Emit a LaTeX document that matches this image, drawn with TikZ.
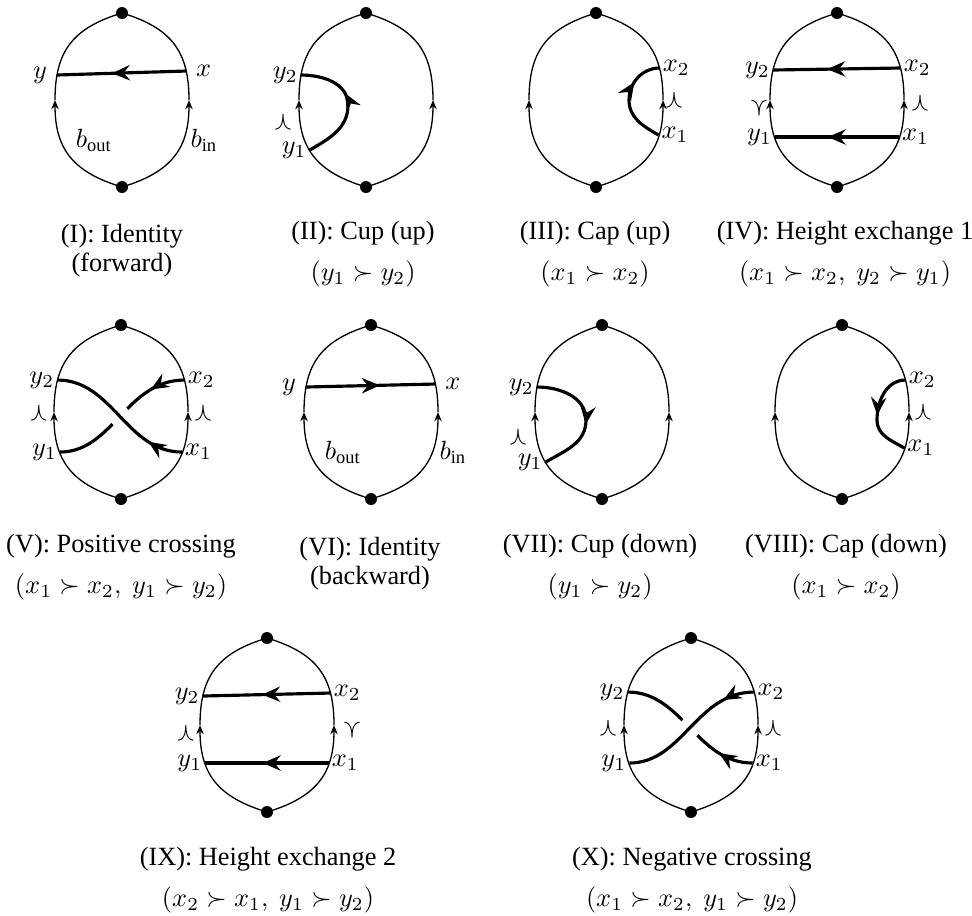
\documentclass[tikz,border=0pt]{standalone}
\usepackage{amsmath,amssymb}
\usepackage{fontspec}
\setmainfont{Liberation Serif}
\usepackage{tikz}
\usetikzlibrary{arrows.meta,decorations.markings}

% boundary of a tile: two arcs up, with marked points at top and bottom
\newcommand{\rim}{%
 \draw[bd,-{Stealth[length=3.5pt,width=2.8pt]}] (0,-87) .. controls (-50,-72) and (-67,-48) .. (-67,0);
 \draw[bd] (-67,0) .. controls (-67,48) and (-50,72) .. (0,87);
 \draw[bd,-{Stealth[length=3.5pt,width=2.8pt]}] (0,-87) .. controls (50,-72) and (67,-48) .. (67,0);
 \draw[bd] (67,0) .. controls (67,48) and (50,72) .. (0,87);
 \fill (0,87) circle (6) (0,-87) circle (6);}

\begin{document}
\begin{tikzpicture}[x=0.38pt,y=0.38pt,
 bd/.style={line width=0.5pt},
 st/.style={line width=1.2pt},
 arw/.style={postaction={decorate,decoration={markings,
   mark=at position #1 with {\arrow{Stealth[length=6.8pt,width=5.8pt,inset=2.3pt]}}}}},
 over/.style={preaction={draw,white,line width=8pt}},
 lab/.style={inner sep=1pt},
 lab1/.style={inner sep=3.5pt},
 capt/.style={align=center,font=\fontsize{10}{10}\selectfont}]
 \useasboundingbox (0,0) rectangle (972,-915);
 % panel I: identity (forward)
 \begin{scope}[shift={(122,-100)}]
  \coordinate (x) at (64.4,29); \coordinate (y) at (-65.2,25);
  \draw[st,arw=0.575] (x) -- (y);
  \rim
  \node[lab1,anchor=west] (xl) at (x) {$x$};
  \node[lab1,anchor=east] (yl) at (y) {$y$};
  \node (bo) at (-28,-40) {$b_{\mathrm{out}}$};
  \node (bi) at (82,-40) {$b_{\mathrm{in}}$};
 \end{scope}
 \node[capt] (c1) at (122,-251) {(I): Identity\\[1pt](forward)};
 % panel II: cup (up)
 \begin{scope}[shift={(366,-100)}]
  \coordinate (y1) at (-56.3,-50); \coordinate (y2) at (-65.2,25);
  \draw[st,arw=0.6] (y1) to[out=30,in=-90] (-18,-5) to[out=90,in=0] (y2);
  \rim
  \node[lab,anchor=east] (y1l) at (y1) {$y_1$};
  \node[lab,anchor=east] (y2l) at (y2) {$y_2$};
  \node (w) at (-83,-22) {$\curlywedge$};
 \end{scope}
 \node[capt] (c2) at (363,-254) {(II): Cup (up)\\[5.4pt]$(y_1\succ y_2)$};
 % panel III: cap (up)
 \begin{scope}[shift={(596,-100)}]
  \coordinate (x1) at (62.5,-35); \coordinate (x2) at (63.7,32);
  \draw[st,arw=0.69] (x1) to[out=150,in=-90] (33,0) to[out=90,in=180] (x2);
  \rim
  \node[lab,anchor=west] (x1l) at (x1) {$x_1$};
  \node[lab,anchor=west] (x2l) at (x2) {$x_2$};
  \node (w) at (78,0) {$\curlywedge$};
 \end{scope}
 \node[capt] (c3) at (595,-254) {(III): Cap (up)\\[5.4pt]$(x_1\succ x_2)$};
 % panel IV: height exchange 1
 \begin{scope}[shift={(837,-100)}]
  \coordinate (x2) at (63.7,32); \coordinate (y2) at (-64.1,30);
  \coordinate (x1) at (62,-37); \coordinate (y1) at (-62,-37);
  \draw[st,arw=0.575] (x2) -- (y2);
  \draw[st,arw=0.575] (x1) -- (y1);
  \rim
  \node[lab,anchor=west] (x1l) at (x1) {$x_1$};
  \node[lab,anchor=west] (x2l) at (x2) {$x_2$};
  \node[lab,anchor=east] (y1l) at (y1) {$y_1$};
  \node[lab,anchor=east] (y2l) at (y2) {$y_2$};
  \node (v) at (-78,-8) {$\curlyvee$};
  \node (w) at (83,-3) {$\curlywedge$};
 \end{scope}
 \node[capt] (c4) at (845,-254) {(IV): Height exchange 1\\[5.4pt]$(x_1\succ x_2,\ y_2\succ y_1)$};
 % panel V: positive crossing
 \begin{scope}[shift={(121,-412)}]
  \coordinate (y2) at (-63.7,32); \coordinate (x2) at (63.7,32);
  \coordinate (y1) at (-61,-40); \coordinate (x1) at (61,-40);
  \draw[st,arw=0.24] (x2) .. controls (5,32) and (-8,-40) .. (y1);
  \draw[st,over,arw=0.24] (x1) .. controls (5,-40) and (-8,32) .. (y2);
  \rim
  \node[lab,anchor=west] (x1l) at (x1) {$x_1$};
  \node[lab,anchor=west] (x2l) at (x2) {$x_2$};
  \node[lab,anchor=east] (y1l) at (y1) {$y_1$};
  \node[lab,anchor=east] (y2l) at (y2) {$y_2$};
  \node (wl) at (-82,-1) {$\curlywedge$};
  \node (wr) at (82,-1) {$\curlywedge$};
 \end{scope}
 \node[capt] (c5) at (121,-567) {(V): Positive crossing\\[5.4pt]$(x_1\succ x_2,\ y_1\succ y_2)$};
 % panel VI: identity (backward)
 \begin{scope}[shift={(371,-412)}]
  \coordinate (x) at (64.6,28); \coordinate (y) at (-65.2,25);
  \draw[st,arw=0.57] (y) -- (x);
  \rim
  \node[lab1,anchor=west] (xl) at (x) {$x$};
  \node[lab1,anchor=east] (yl) at (y) {$y$};
  \node (bo) at (-28,-40) {$b_{\mathrm{out}}$};
  \node (bi) at (82,-40) {$b_{\mathrm{in}}$};
 \end{scope}
 \node[capt] (c6) at (370,-564) {(VI): Identity\\[1pt](backward)};
 % panel VII: cup (down)
 \begin{scope}[shift={(602,-412)}]
  \coordinate (y1) at (-56.3,-50); \coordinate (y2) at (-65.2,25);
  \draw[st,arw=0.55] (y2) to[out=0,in=90] (-16,-8) to[out=-90,in=30] (y1);
  \rim
  \node[lab,anchor=east] (y1l) at (y1) {$y_1$};
  \node[lab,anchor=east] (y2l) at (y2) {$y_2$};
  \node (w) at (-84,-25) {$\curlywedge$};
 \end{scope}
 \node[capt] (c7) at (600,-567) {(VII): Cup (down)\\[5.4pt]$(y_1\succ y_2)$};
 % panel VIII: cap (down)
 \begin{scope}[shift={(842,-412)}]
  \coordinate (x1) at (62.3,-36); \coordinate (x2) at (63.7,32);
  \draw[st,arw=0.52] (x2) to[out=180,in=90] (35,-8) to[out=-90,in=150] (x1);
  \rim
  \node[lab,anchor=west] (x1l) at (x1) {$x_1$};
  \node[lab,anchor=west] (x2l) at (x2) {$x_2$};
  \node (w) at (81,0) {$\curlywedge$};
 \end{scope}
 \node[capt] (c8) at (846,-567) {(VIII): Cap (down)\\[5.4pt]$(x_1\succ x_2)$};
 % panel IX: height exchange 2
 \begin{scope}[shift={(267,-725)}]
  \coordinate (x2) at (63.7,32); \coordinate (y2) at (-64.3,29);
  \coordinate (x1) at (61.7,-38); \coordinate (y1) at (-61.7,-38);
  \draw[st,arw=0.535] (x2) -- (y2);
  \draw[st,arw=0.535] (x1) -- (y1);
  \rim
  \node[lab,anchor=west] (x1l) at (x1) {$x_1$};
  \node[lab,anchor=west] (x2l) at (x2) {$x_2$};
  \node[lab,anchor=east] (y1l) at (y1) {$y_1$};
  \node[lab,anchor=east] (y2l) at (y2) {$y_2$};
  \node (w) at (-81,-8) {$\curlywedge$};
  \node (v) at (85,-5) {$\curlyvee$};
 \end{scope}
 \node[capt] (c9) at (268,-880) {(IX): Height exchange 2\\[5.4pt]$(x_2\succ x_1,\ y_1\succ y_2)$};
 % panel X: negative crossing
 \begin{scope}[shift={(691,-725)}]
  \coordinate (y2) at (-63.5,33); \coordinate (x2) at (63.5,33);
  \coordinate (y1) at (-61.7,-38); \coordinate (x1) at (61.7,-38);
  \draw[st,arw=0.24] (x1) .. controls (5,-38) and (-8,33) .. (y2);
  \draw[st,over,arw=0.22] (x2) .. controls (5,33) and (-8,-38) .. (y1);
  \rim
  \node[lab,anchor=west] (x1l) at (x1) {$x_1$};
  \node[lab,anchor=west] (x2l) at (x2) {$x_2$};
  \node[lab,anchor=east] (y1l) at (y1) {$y_1$};
  \node[lab,anchor=east] (y2l) at (y2) {$y_2$};
  \node (wl) at (-83,-3) {$\curlywedge$};
  \node (wr) at (82,-3) {$\curlywedge$};
 \end{scope}
 \node[capt] (c10) at (692,-880) {(X): Negative crossing\\[5.4pt]$(x_1\succ x_2,\ y_1\succ y_2)$};
\end{tikzpicture}
\end{document}
